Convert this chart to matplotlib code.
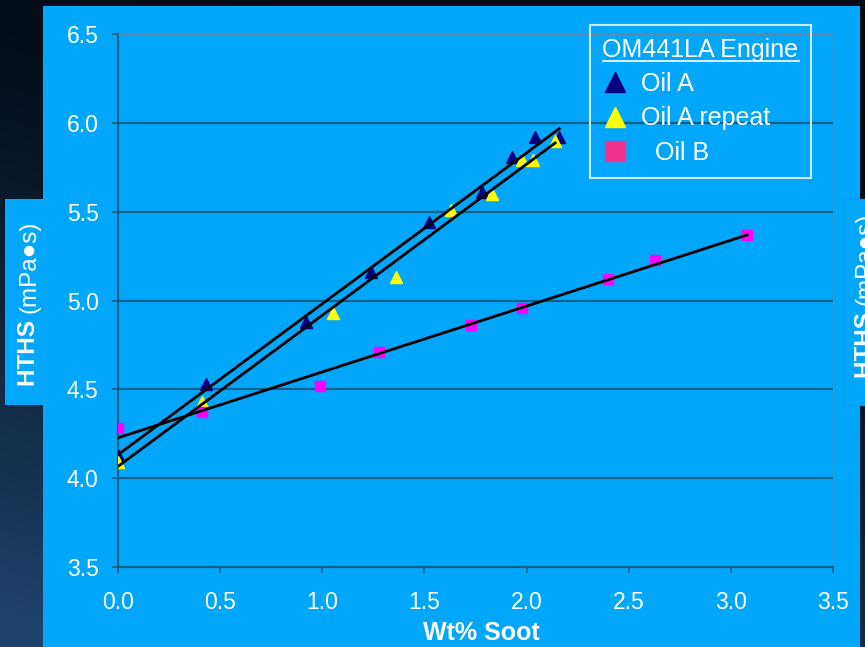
import numpy as np
import matplotlib
matplotlib.use("Agg")
import matplotlib.pyplot as plt
import matplotlib.patches as mpatches
from matplotlib.lines import Line2D

# ── Data ─────────────────────────────────────────────────────
soot_a = [0.0, 0.43, 0.92, 1.24, 1.52, 1.78, 1.93, 2.04, 2.16]
hths_a = [4.13, 4.53, 4.88, 5.16, 5.44, 5.61, 5.81, 5.92, 5.92]

soot_a_rep = [0.0, 0.41, 1.05, 1.36, 1.63, 1.83, 1.98, 2.03, 2.14]
hths_a_rep = [4.09, 4.43, 4.93, 5.13, 5.51, 5.60, 5.79, 5.79, 5.90]

soot_b = [0.0, 0.41, 0.99, 1.28, 1.73, 1.98, 2.40, 2.63, 3.08]
hths_b = [4.28, 4.37, 4.52, 4.71, 4.86, 4.96, 5.12, 5.23, 5.37]

x_ticks = [0.0, 0.5, 1.0, 1.5, 2.0, 2.5, 3.0, 3.5]
y_ticks = [3.5, 4.0, 4.5, 5.0, 5.5, 6.0, 6.5]

W, H = 865, 647
panel = "#02a6fb"
grid_col = "#0d5f8c"
font = ["Liberation Sans", "DejaVu Sans"]

fig = plt.figure(figsize=(W / 100, H / 100), dpi=100)

# ── Slide background: dark navy gradient ─────────────────────
bg_ax = fig.add_axes([0, 0, 1, 1], zorder=-10)
yy, xx = np.mgrid[0:1:200j, 0:1:200j]
t = np.clip(yy * 0.9 + (1 - xx) * 0.35 - 0.2, 0, 1)
top = np.array([0.01, 0.04, 0.08])
bot = np.array([0.12, 0.26, 0.42])
img = top + (bot - top) * t[..., None] ** 1.5
bg_ax.imshow(img, origin="upper", aspect="auto", extent=[0, 1, 0, 1])
bg_ax.set_axis_off()

# light blue chart panel and the two axis-title tabs
fig.add_artist(mpatches.Rectangle((43 / W, 0), 817 / W, 641 / H,
                                  transform=fig.transFigure,
                                  facecolor=panel, edgecolor="none", zorder=-5))
fig.add_artist(mpatches.Rectangle((5 / W, 1 - 405 / H), 38 / W, 206 / H,
                                  transform=fig.transFigure,
                                  facecolor=panel, edgecolor="none", zorder=-4))
fig.add_artist(mpatches.Rectangle((843 / W, 1 - 405 / H), 30 / W, 206 / H,
                                  transform=fig.transFigure,
                                  facecolor=panel, edgecolor="#3d8fc0",
                                  linewidth=0.8, zorder=-4))

# ── Plot area ────────────────────────────────────────────────
ax = fig.add_axes([118 / W, 1 - 567 / H, (833 - 118) / W, (567 - 34) / H])
ax.set_facecolor("none")
ax.set_xlim(0, 3.5)
ax.set_ylim(3.5, 6.5)
ax.set_xticks(x_ticks)
ax.set_yticks(y_ticks)
ax.set_xticklabels(["{:.1f}".format(v) for v in x_ticks])
ax.set_yticklabels(["{:.1f}".format(v) for v in y_ticks])
ax.tick_params(colors=grid_col, labelcolor="white", labelsize=16.5,
               direction="out", length=4, width=1.2)
ax.tick_params(axis="y", pad=10)
ax.tick_params(axis="x", pad=13)
for lab in ax.get_xticklabels() + ax.get_yticklabels():
    lab.set_family(font)

for v in y_ticks[1:-1]:
    ax.axhline(v, color=grid_col, linewidth=1.6, zorder=1)
for side in ["left", "bottom"]:
    ax.spines[side].set_color(grid_col)
    ax.spines[side].set_linewidth(1.6)
for side in ["top", "right"]:
    ax.spines[side].set_color("#5e8aa8")
    ax.spines[side].set_linewidth(1.0)

# markers
ax.plot(soot_a, hths_a, linestyle="none", marker="^", markersize=8,
        color="#000080", zorder=3)
ax.plot(soot_a_rep, hths_a_rep, linestyle="none", marker="^", markersize=8,
        color="#ffff00", zorder=3)
ax.plot(soot_b, hths_b, linestyle="none", marker="s", markersize=7.5,
        color="#ff00ff", zorder=3)

# linear trend lines
for xs, ys in [(soot_a, hths_a), (soot_a_rep, hths_a_rep), (soot_b, hths_b)]:
    k, b = np.polyfit(xs, ys, 1)
    xl = np.array([min(xs), max(xs)])
    ax.plot(xl, k * xl + b, color="black", linewidth=2.0, zorder=4)

# ── Axis titles ──────────────────────────────────────────────
fig.text(481 / W, 1 - 633 / H, "Wt% Soot", ha="center", va="center",
         fontsize=18, fontweight="bold", color="white", family=font)

for cx, cy in [(29, 313), (865, 305)]:
    fig.text(cx / W, 1 - cy / H, "HTHS ", rotation=90, rotation_mode="anchor",
             ha="right", va="center", fontsize=17.5, fontweight="bold",
             color="white", family=font)
    fig.text(cx / W, 1 - cy / H, "(mPa\u25cfs)", rotation=90,
             rotation_mode="anchor", ha="left", va="center", fontsize=17.5,
             color="white", family=font)

# ── Legend ───────────────────────────────────────────────────
handles = [
    Line2D([], [], linestyle="none", marker="^", markersize=15, color="#000080"),
    Line2D([], [], linestyle="none", marker="^", markersize=15, color="#ffff00"),
    Line2D([], [], linestyle="none", marker="s", markersize=14, color="#f5338f"),
]
labels = ["Oil A", "Oil A repeat", "  Oil B"]
leg = ax.legend(handles, labels, title="OM441LA Engine", loc="upper left",
                bbox_to_anchor=(590 / W, 1 - 25 / H),
                bbox_transform=fig.transFigure, borderaxespad=0,
                frameon=True, fancybox=False, facecolor="none",
                edgecolor="white", alignment="left", numpoints=1,
                handlelength=1.0, handletextpad=0.55, labelspacing=0.42,
                borderpad=0.5,
                prop={"family": font, "size": 18}, title_fontsize=18)
leg.get_frame().set_linewidth(1.5)
leg.get_title().set_color("white")
leg.get_title().set_family(font)
for txt in leg.get_texts():
    txt.set_color("white")

# underline the legend title
fig.canvas.draw()
tb = leg.get_title().get_window_extent(fig.canvas.get_renderer())
tb = tb.transformed(fig.transFigure.inverted())
fig.add_artist(Line2D([tb.x0, tb.x1], [tb.y0 + 1 / H, tb.y0 + 1 / H],
                      color="white", linewidth=1.2,
                      transform=fig.transFigure))

fig.savefig("out.png", dpi=100)
